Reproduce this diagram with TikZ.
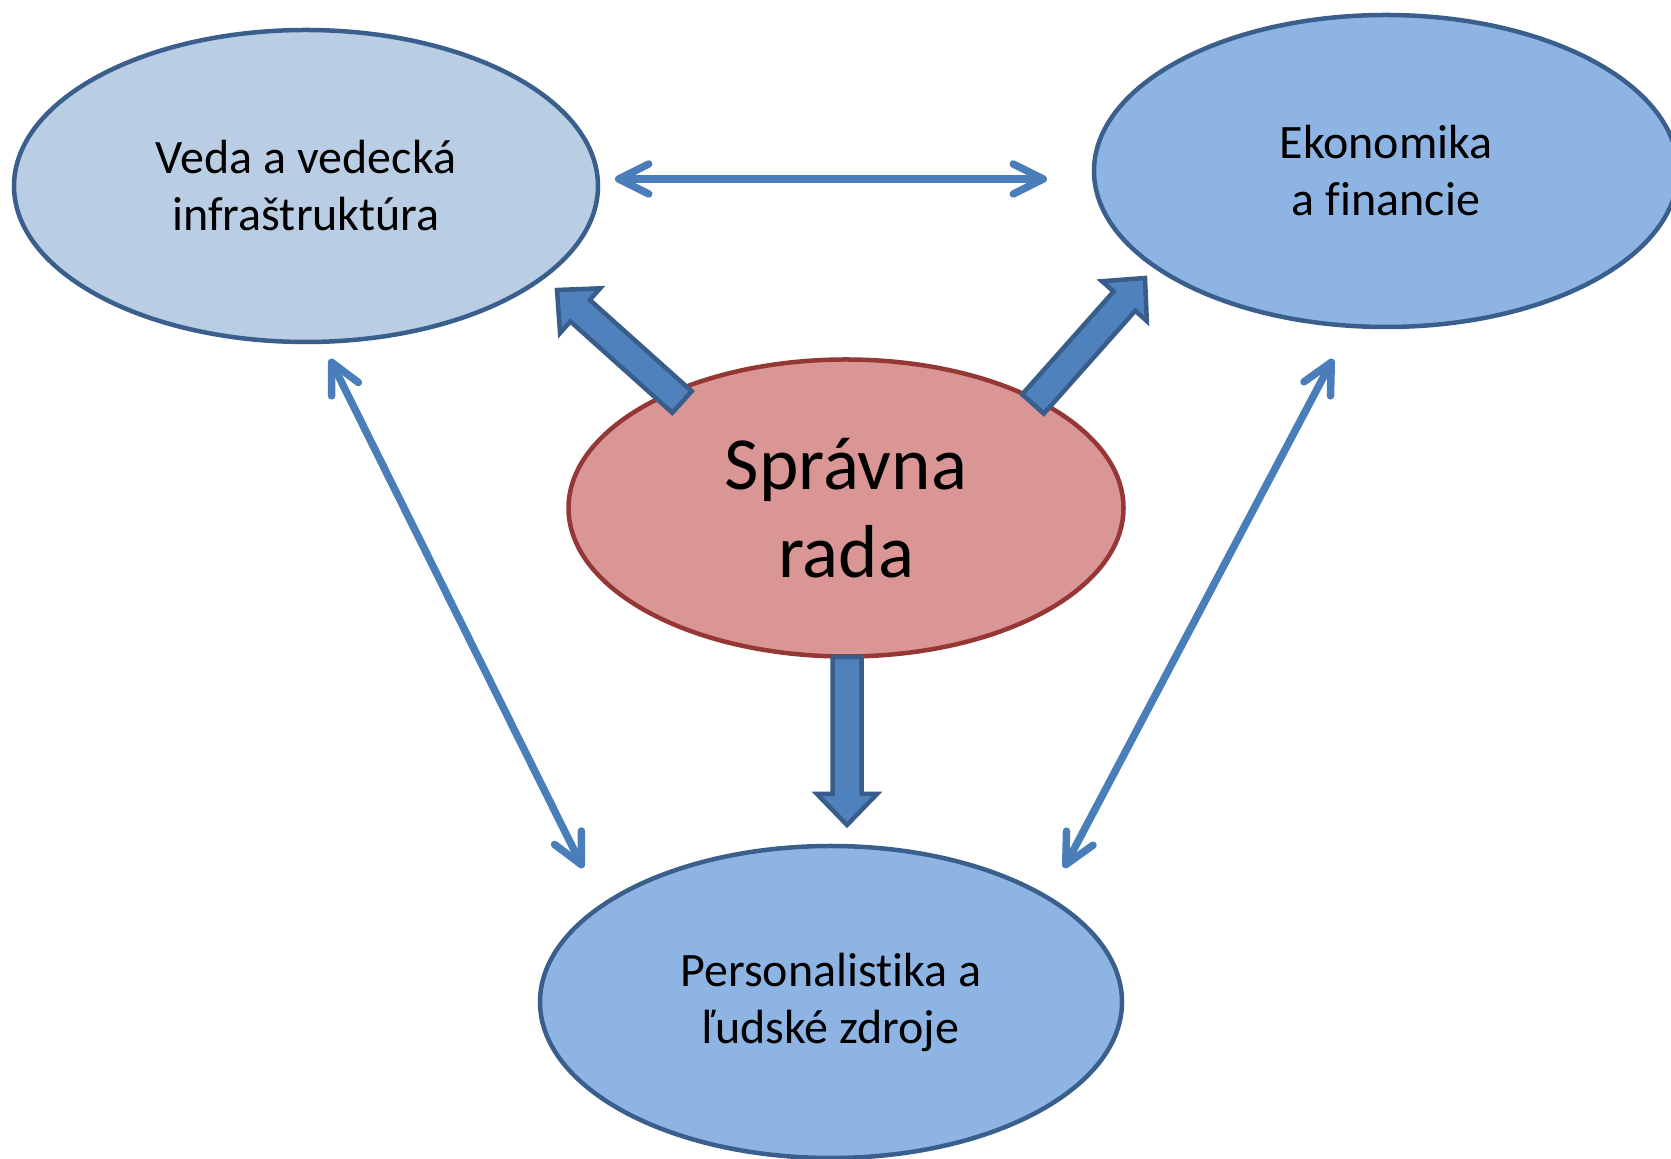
\documentclass[tikz,border=0pt]{standalone}
\usepackage{fontspec}
\setmainfont{Carlito}[Ligatures=NoCommon]
\usetikzlibrary{shapes.geometric,arrows.meta,calc}
\definecolor{vedafill}{HTML}{B9CDE5}
\definecolor{bluefill}{HTML}{8EB4E3}
\definecolor{blueline}{HTML}{3A5F8D}
\definecolor{redfill}{HTML}{D99694}
\definecolor{redline}{HTML}{953735}
\definecolor{thinarrow}{HTML}{4A7EBB}
\definecolor{blockfill}{HTML}{4F81BD}
\definecolor{blockline}{HTML}{385D8A}
\tikzset{
  oval/.style={ellipse, draw=blueline, line width=4.5pt, inner sep=0pt, align=center,
    font=\fontsize{48}{57}\selectfont},
  thin/.style={draw=thinarrow, line width=7.5pt, line cap=round,
    {Straight Barb[length=30pt,width=30pt,round]}-{Straight Barb[length=30pt,width=30pt,round]}},
  bigarrow/.style={fill=blockfill, draw=blockline, line width=4.5pt, line join=miter},
}
\newcommand{\blockarr}[2]{%
  \coordinate (hb) at ($(#2)!31pt!(#1)$);
  \draw[bigarrow] ($(#1)!14.5pt!90:(#2)$) -- ($(hb)!14.5pt!-90:(#1)$) -- ($(hb)!30pt!-90:(#1)$)
    -- (#2) -- ($(hb)!30pt!90:(#1)$) -- ($(hb)!14.5pt!90:(#1)$) -- ($(#1)!14.5pt!-90:(#2)$) -- cycle;}
\begin{document}
\begin{tikzpicture}[x=1pt,y=1pt]
\useasboundingbox (0,0) rectangle (1671,1159);
% ellipses
\node[oval, fill=vedafill, minimum width=584pt, minimum height=312pt] (veda) at (306,973)
  {Veda a vedecká\\infraštruktúra};
\node[oval, fill=bluefill, minimum width=584pt, minimum height=312pt] (eko) at (1386,988)
  {Ekonomika\\a financie};
\node[oval, fill=redfill, draw=redline, minimum width=555pt, minimum height=297pt,
  font=\fontsize{75}{88}\selectfont] (rada) at (846,651) {Správna\\rada};
\node[oval, fill=bluefill, minimum width=582pt, minimum height=312pt] (pers) at (831,157)
  {Personalistika a\\ľudské zdroje};
% thin double arrows
\coordinate (t1) at (615,980);
\coordinate (t2) at (1047,980);
\coordinate (l1) at (330,800);
\coordinate (l2) at (583,291);
\coordinate (r1) at (1333,800);
\coordinate (r2) at (1064,291);
\draw[thin] (t1) -- (t2);
\draw[thin] (l1) -- (l2);
\draw[thin] (r1) -- (r2);
% block arrows
\coordinate (a1t) at (682,757);
\coordinate (a1h) at (557,869);
\coordinate (a2t) at (1033,755);
\coordinate (a2h) at (1145,881);
\coordinate (a3t) at (847,502);
\coordinate (a3h) at (847,334);
\blockarr{a1t}{a1h}
\blockarr{a2t}{a2h}
\blockarr{a3t}{a3h}
\end{tikzpicture}
\end{document}
